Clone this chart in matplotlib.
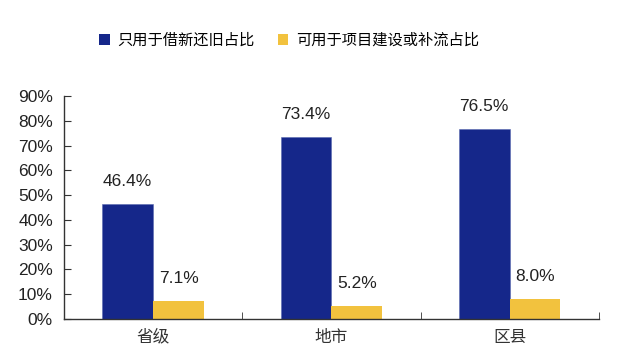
import matplotlib
matplotlib.use("Agg")
import matplotlib.pyplot as plt
import numpy as np
from matplotlib.patches import Patch

plt.rcParams['font.family'] = ['Liberation Sans', 'Noto Sans CJK SC', 'DejaVu Sans']

categories = ["省级", "地市", "区县"]
series_names = ["只用于借新还旧占比", "可用于项目建设或补流占比"]
refinance_only = [46.4, 73.4, 76.5]
project_use = [7.1, 5.2, 8.0]
y_ticks = [0, 10, 20, 30, 40, 50, 60, 70, 80, 90]

blue = "#15278A"
yellow = "#F2C23E"

fig = plt.figure(figsize=(6.37, 3.55), dpi=100)
ax = fig.add_axes([0.1005, 0.1014, 0.8395, 0.6282])

x = np.arange(len(categories))
w = 0.285
b1 = ax.bar(x - w/2, refinance_only, w, color=blue, edgecolor="#5a6ab0", linewidth=0.4)
b2 = ax.bar(x + w/2, project_use, w, color=yellow, edgecolor="none")

for bars, vals in ((b1, refinance_only), (b2, project_use)):
    for rect, v in zip(bars, vals):
        ax.annotate(f"{v:.1f}%", (rect.get_x() + rect.get_width()/2, v), xytext=(0, 11),
                    textcoords="offset points", ha="center", va="bottom", fontsize=12.5,
                    color="#222222")

ax.set_xlim(-0.5, len(categories) - 0.5)
ax.set_ylim(0, 90)
ax.set_yticks(y_ticks)
ax.set_yticklabels([f"{t}%" for t in y_ticks], fontsize=12.5, color="#222222")
ax.set_xticks(x)
ax.set_xticklabels(categories, fontsize=12, color="#333333", family=['Noto Sans CJK SC'])
ax.tick_params(axis='x', length=0, pad=7)
ax.set_xticks(np.arange(len(categories)) + 0.5, minor=True)
ax.tick_params(axis='x', which='minor', direction='in', length=5, color="#333333")
ax.tick_params(axis='y', direction='in', length=5, color="#333333", pad=8)

for s in ["top", "right"]:
    ax.spines[s].set_visible(False)
for s in ["left", "bottom"]:
    ax.spines[s].set_color("#333333")
    ax.spines[s].set_linewidth(1.0)

handles = [Patch(facecolor=blue), Patch(facecolor=yellow)]
fig.legend(handles, series_names, loc="center", bbox_to_anchor=(0.454, 0.887), ncol=2,
           frameon=False, handlelength=0.7, handleheight=0.7, handletextpad=0.5,
           columnspacing=1.5, prop={'family': ['Noto Sans CJK SC'], 'size': 11})

fig.savefig("out.png", dpi=100)
